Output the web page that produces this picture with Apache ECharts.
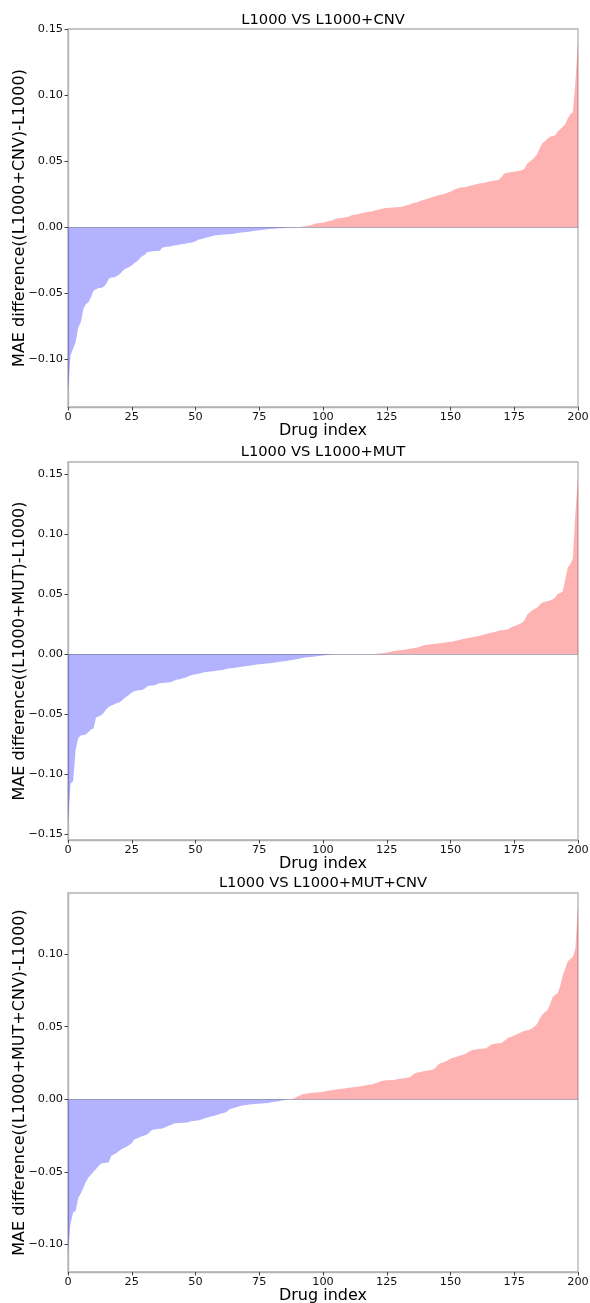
<!DOCTYPE html>
<html>
<head>
<meta charset="utf-8">
<script src="https://cdn.jsdelivr.net/npm/echarts@6/dist/echarts.min.js"></script>
<style>
html,body{margin:0;padding:0;background:#fff;overflow:hidden;}
#c{width:590px;height:1303px;}
</style>
</head>
<body>
<div id="c"></div>
<script>
// ---- Data (sorted MAE differences per drug, index 0..200) ----
const titles = ["L1000 VS L1000+CNV", "L1000 VS L1000+MUT", "L1000 VS L1000+MUT+CNV"];
const yNames = ["MAE difference((L1000+CNV)-L1000)", "MAE difference((L1000+MUT)-L1000)", "MAE difference((L1000+MUT+CNV)-L1000)"];
const xName = "Drug index";
const xTicks = [0, 25, 50, 75, 100, 125, 150, 175, 200];
const yTicks1 = [-0.10, -0.05, 0.00, 0.05, 0.10, 0.15];
const yTicks2 = [-0.15, -0.10, -0.05, 0.00, 0.05, 0.10, 0.15];
const yTicks3 = [-0.10, -0.05, 0.00, 0.05, 0.10];

const cnv = [
-0.123,-0.097,-0.092,-0.087,-0.076,-0.072,-0.062,-0.058,-0.057,-0.053,
-0.048,-0.047,-0.046,-0.046,-0.045,-0.043,-0.039,-0.038,-0.038,-0.037,
-0.036,-0.034,-0.032,-0.031,-0.030,-0.029,-0.027,-0.026,-0.024,-0.022,
-0.021,-0.019,-0.0185,-0.0183,-0.018,-0.018,-0.0177,-0.0155,-0.015,-0.0148,
-0.0145,-0.014,-0.0137,-0.0135,-0.013,-0.0127,-0.0125,-0.012,-0.0117,-0.0113,
-0.0105,-0.0095,-0.009,-0.0085,-0.008,-0.0075,-0.007,-0.0065,-0.006,-0.0058,
-0.0056,-0.0055,-0.0054,-0.0053,-0.0051,-0.005,-0.0046,-0.0042,-0.004,-0.0038,
-0.0036,-0.0034,-0.003,-0.0027,-0.0025,-0.0023,-0.002,-0.0018,-0.0016,-0.0014,
-0.0012,-0.0011,-0.001,-0.0008,-0.0007,-0.0006,-0.0004,-0.0003,-0.0002,-0.0001,
0.0,0.0002,0.0005,0.0008,0.0012,0.0015,0.002,0.0028,0.003,0.0033,
0.0035,0.004,0.0045,0.005,0.0055,0.0065,0.0068,0.007,0.0072,0.0076,
0.008,0.0088,0.0095,0.0097,0.010,0.0105,0.011,0.0113,0.0117,0.012,
0.0125,0.013,0.0135,0.014,0.0143,0.0145,0.0147,0.0149,0.015,0.0152,
0.0153,0.0156,0.016,0.0167,0.0172,0.018,0.0185,0.019,0.0198,0.0205,
0.021,0.0215,0.0222,0.0228,0.0234,0.024,0.0245,0.025,0.0255,0.0262,
0.0268,0.028,0.029,0.0295,0.030,0.0302,0.0305,0.031,0.0315,0.032,
0.0325,0.033,0.0332,0.0335,0.034,0.0345,0.035,0.0352,0.0355,0.036,
0.038,0.0405,0.0412,0.0415,0.0418,0.042,0.0423,0.0428,0.0433,0.044,
0.048,0.0495,0.051,0.053,0.0555,0.060,0.0635,0.065,0.067,0.0685,
0.069,0.0695,0.0725,0.074,0.076,0.078,0.0825,0.0855,0.087,0.110,
0.140
];

const mut = [
-0.140,-0.108,-0.106,-0.080,-0.070,-0.068,-0.0675,-0.067,-0.065,-0.063,
-0.062,-0.053,-0.052,-0.051,-0.049,-0.046,-0.044,-0.043,-0.042,-0.041,
-0.0405,-0.039,-0.037,-0.0355,-0.034,-0.032,-0.031,-0.0305,-0.0302,-0.030,
-0.029,-0.027,-0.0265,-0.0262,-0.026,-0.025,-0.0244,-0.0241,-0.0239,-0.0237,
-0.0235,-0.023,-0.0218,-0.0212,-0.021,-0.0202,-0.0197,-0.0188,-0.018,-0.0172,
-0.0168,-0.0164,-0.016,-0.0155,-0.0151,-0.0148,-0.0146,-0.0143,-0.014,-0.0137,
-0.0135,-0.0132,-0.0126,-0.012,-0.0118,-0.0116,-0.0113,-0.011,-0.0107,-0.0104,
-0.010,-0.0097,-0.0094,-0.0091,-0.0088,-0.0086,-0.0084,-0.0082,-0.008,-0.0077,
-0.0074,-0.007,-0.0068,-0.0065,-0.0062,-0.006,-0.0057,-0.0053,-0.005,-0.0046,
-0.0042,-0.0038,-0.0033,-0.003,-0.0027,-0.0025,-0.0022,-0.002,-0.0017,-0.0015,
-0.0012,-0.001,-0.0007,-0.0005,-0.0003,-0.0001,0.0,0.0,0.0,0.0,
0.0,0.0,0.0,0.0,0.0,0.0,0.0,0.0,0.0,0.0,
0.0,0.0002,0.0004,0.0006,0.0009,0.0012,0.0016,0.002,0.0026,0.003,
0.0031,0.0033,0.0036,0.004,0.0043,0.0047,0.005,0.0055,0.006,0.0068,
0.0075,0.0078,0.008,0.0083,0.0086,0.0088,0.009,0.0093,0.0096,0.0099,
0.0102,0.0105,0.011,0.0115,0.012,0.0126,0.013,0.0134,0.0138,0.0142,
0.0145,0.015,0.0155,0.016,0.0167,0.0172,0.0177,0.0182,0.0188,0.0194,
0.0198,0.020,0.0202,0.021,0.0225,0.0232,0.024,0.025,0.026,0.028,
0.0325,0.0345,0.0362,0.0375,0.0388,0.041,0.043,0.0435,0.044,0.0445,
0.0455,0.0468,0.050,0.0508,0.052,0.062,0.072,0.0748,0.080,0.118,
0.147
];

const mutcnv = [
-0.105,-0.086,-0.078,-0.077,-0.068,-0.065,-0.061,-0.057,-0.054,-0.052,
-0.050,-0.048,-0.046,-0.0445,-0.044,-0.0438,-0.0435,-0.039,-0.038,-0.037,
-0.0357,-0.0345,-0.0335,-0.0327,-0.0315,-0.0302,-0.0278,-0.027,-0.0262,-0.0255,
-0.025,-0.0243,-0.0228,-0.021,-0.0208,-0.0206,-0.0204,-0.0202,-0.0195,-0.0187,
-0.018,-0.0172,-0.0166,-0.0165,-0.0164,-0.0163,-0.0162,-0.0158,-0.0154,-0.015,
-0.0148,-0.0146,-0.0142,-0.0135,-0.013,-0.0125,-0.012,-0.0115,-0.011,-0.0105,
-0.0099,-0.0095,-0.009,-0.0075,-0.0065,-0.006,-0.0055,-0.005,-0.0045,-0.0042,
-0.004,-0.0037,-0.0035,-0.0033,-0.0032,-0.0031,-0.003,-0.0028,-0.0026,-0.0024,
-0.002,-0.0018,-0.0015,-0.0012,-0.0009,-0.0005,-0.0002,0.0,0.0003,0.0008,
0.0018,0.0028,0.0034,0.0037,0.004,0.0043,0.0045,0.0046,0.0047,0.0048,
0.0052,0.0055,0.0058,0.006,0.0064,0.0066,0.0068,0.007,0.0073,0.0076,
0.0078,0.008,0.0083,0.0085,0.0087,0.009,0.0093,0.0096,0.0099,0.0102,
0.0106,0.0112,0.012,0.0126,0.0128,0.013,0.0131,0.0132,0.0133,0.0137,
0.014,0.0142,0.0145,0.0148,0.0152,0.0165,0.0178,0.0184,0.0186,0.019,
0.0194,0.0197,0.020,0.0205,0.0215,0.0235,0.0248,0.0253,0.026,0.0268,
0.0278,0.0285,0.029,0.0296,0.0302,0.0306,0.0315,0.0325,0.0335,0.034,
0.0342,0.0345,0.0347,0.035,0.0351,0.0365,0.0377,0.038,0.0383,0.0385,
0.0387,0.040,0.0415,0.0427,0.043,0.0438,0.0447,0.0455,0.0465,0.047,
0.0474,0.0478,0.0488,0.050,0.052,0.0555,0.058,0.060,0.0613,0.065,
0.070,0.072,0.073,0.078,0.085,0.090,0.095,0.0965,0.098,0.104,
0.133
];

const datasets = [cnv, mut, mutcnv];
const yRanges = [[-0.136, 0.150], [-0.155, 0.160], [-0.119, 0.142]];
const yTickSets = [yTicks1, yTicks2, yTicks3];

// ---- Layout ----
const FONT = "DejaVu Sans";
const grids = [
  {left: 68, right: 12, top: 29, height: 378},
  {left: 68, right: 12, top: 462, height: 378},
  {left: 68, right: 12, top: 893, height: 379}
];
const titleTops = [13, 445, 876];

function fmt(v) {
  const s = Math.abs(v).toFixed(2);
  return (v < -1e-9 ? "\u2212" : "") + s;
}

const option = {
  animation: false,
  backgroundColor: "#ffffff",
  title: titles.map((t, i) => ({
    text: t, left: 323, top: titleTops[i], textAlign: "center", padding: 0,
    textStyle: {fontFamily: FONT, fontSize: 14.7, fontWeight: "normal", color: "#000"}
  })),
  grid: grids.map(g => Object.assign({outerBoundsMode: "none", containLabel: false, show: true, borderColor: "#b3b3b3", borderWidth: 1.3, backgroundColor: "transparent"}, g)),
  xAxis: grids.map((g, i) => ({
    type: "value", gridIndex: i, min: 0, max: 200, interval: 25,
    name: xName, nameLocation: "middle", nameGap: 16, nameMoveOverlap: false,
    nameTextStyle: {fontFamily: FONT, fontSize: 16, color: "#000"},
    axisLine: {show: true, onZero: false, lineStyle: {color: "#b3b3b3", width: 1.3}},
    axisTick: {show: true, length: 3.5, inside: false, lineStyle: {color: "#444", width: 1}},
    axisLabel: {fontFamily: FONT, fontSize: 11.3, color: "#111", margin: 5,
      customValues: xTicks},
    splitLine: {show: false}
  })),
  yAxis: grids.map((g, i) => ({
    type: "value", gridIndex: i, min: yRanges[i][0], max: yRanges[i][1],
    name: yNames[i], nameLocation: "middle", nameGap: 40, nameRotate: 90, nameMoveOverlap: false,
    nameTextStyle: {fontFamily: FONT, fontSize: 16, color: "#000"},
    axisLine: {show: true, onZero: false, lineStyle: {color: "#b3b3b3", width: 1.3}},
    axisTick: {show: true, length: 3.5, inside: false, lineStyle: {color: "#444", width: 1},
      customValues: yTickSets[i]},
    axisLabel: {fontFamily: FONT, fontSize: 11.3, color: "#111", margin: 5,
      customValues: yTickSets[i], formatter: v => fmt(v)},
    splitLine: {show: false}
  })),
  series: []
};

datasets.forEach((arr, i) => {
  const neg = arr.map((v, k) => [k, Math.min(v, 0)]);
  const pos = arr.map((v, k) => [k, Math.max(v, 0)]);
  option.series.push({
    type: "line", xAxisIndex: i, yAxisIndex: i, data: neg,
    showSymbol: false, symbol: "none", silent: true,
    lineStyle: {width: 0, color: "rgba(0,0,255,0)"},
    areaStyle: {color: "rgba(0,0,255,0.3)", opacity: 1, origin: 0},
    markLine: {silent: true, symbol: "none", label: {show: false},
      lineStyle: {color: "rgba(110,110,140,0.55)", width: 1, type: "solid"},
      data: [{yAxis: 0}]}
  });
  option.series.push({
    type: "line", xAxisIndex: i, yAxisIndex: i, data: pos,
    showSymbol: false, symbol: "none", silent: true,
    lineStyle: {width: 0, color: "rgba(255,0,0,0)"},
    areaStyle: {color: "rgba(255,0,0,0.3)", opacity: 1, origin: 0}
  });
});

const chart = echarts.init(document.getElementById("c"), null, {renderer: "canvas"});
chart.setOption(option);
</script>
</body>
</html>
